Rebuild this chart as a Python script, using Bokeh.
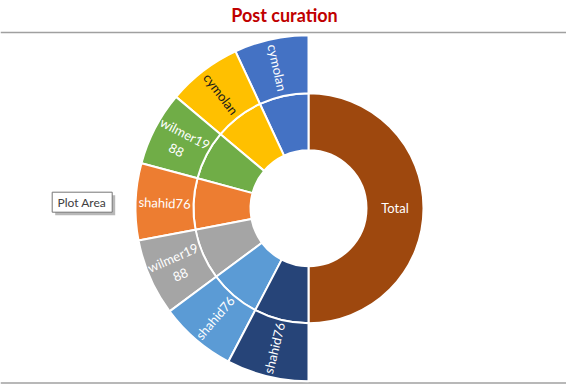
import math
from bokeh.plotting import figure
from bokeh.models import Range1d, ColumnDataSource
from bokeh.core.properties import value
from bokeh.embed import file_html
from bokeh.resources import INLINE

# ---- data ----
title = "Post curation"
outer_names = ["cymolan", "cymolan", "wilmer1988", "shahid76", "wilmer1988", "shahid76", "shahid76"]
outer_display = ["cymolan", "cymolan", "wilmer19\n88", "shahid76", "wilmer19\n88", "shahid76", "shahid76"]
segment_values = [29, 29, 29, 30, 30, 30, 32]
segment_colors = ["#4472C4", "#FFC000", "#70AD47", "#ED7D31", "#A5A5A5", "#5B9BD5", "#264478"]
label_colors = ["white", "#1a1a1a", "white", "white", "white", "white", "white"]
total_name = "Total"
total_value = 209
total_color = "#9E480E"

# ---- geometry ----
W, H = 566, 385
cx, cy = 308, -207.7
r_hole, r_mid, r_out = 58, 115, 173

p = figure(width=W, height=H, x_range=Range1d(0, W), y_range=Range1d(-H, 0),
           output_backend="svg", toolbar_location=None, min_border=0,
           x_axis_location=None, y_axis_location=None)
p.grid.visible = False
p.outline_line_color = None
p.background_fill_color = "white"

# frame lines
p.segment(x0=[0, 0], y0=[-32, -382.5], x1=[W, W], y1=[-32, -382.5],
          line_color="#a0a0a0", line_width=1.5)

# total (right half) -- equals the sum of the rest
left_sum = sum(segment_values)
total_span = 2 * math.pi * total_value / (total_value + left_sum)
p.annular_wedge(x=cx, y=cy, inner_radius=r_hole, outer_radius=r_mid,
                start_angle=math.pi / 2 - total_span, end_angle=math.pi / 2,
                fill_color=total_color, line_color="white", line_width=2)
mid_total = math.pi / 2 - total_span / 2
p.text(x=[cx + (r_hole + r_mid) / 2 * math.cos(mid_total)],
       y=[cy + (r_hole + r_mid) / 2 * math.sin(mid_total)],
       text=[total_name], text_color="white", text_font=value("Lato"),
       text_font_size="13px", text_align="center", text_baseline="middle")

# left segments
left_span = 2 * math.pi - total_span
starts, ends, lx, ly, angs = [], [], [], [], []
cum = 0
for v in segment_values:
    s = math.pi / 2 + cum / left_sum * left_span
    cum += v
    e = math.pi / 2 + cum / left_sum * left_span
    m = (s + e) / 2
    starts.append(s); ends.append(e)
    rr = (r_mid + r_out) / 2
    lx.append(cx + rr * math.cos(m)); ly.append(cy + rr * math.sin(m))
    a = m + math.pi
    while a > math.pi / 2:
        a -= math.pi
    while a <= -math.pi / 2:
        a += math.pi
    angs.append(a)

src = ColumnDataSource(dict(start=starts, end=ends, color=segment_colors,
                            x=lx, y=ly, text=outer_display, angle=angs, tcolor=label_colors))
p.annular_wedge(x=cx, y=cy, inner_radius=r_hole, outer_radius=r_mid,
                start_angle="start", end_angle="end", fill_color="color",
                line_color="white", line_width=2, source=src)
p.annular_wedge(x=cx, y=cy, inner_radius=r_mid, outer_radius=r_out,
                start_angle="start", end_angle="end", fill_color="color",
                line_color="white", line_width=2, source=src)
p.text(x="x", y="y", text="text", angle="angle", text_color="tcolor",
       text_font=value("Lato"), text_font_size="13px", text_align="center",
       text_baseline="middle", text_line_height=1.15, source=src)

# title
p.text(x=[284], y=[-14], text=[title], text_color="#C00000", text_font=value("Lato"),
       text_font_style="bold", text_font_size="18px", text_align="center", text_baseline="middle")

# "Plot Area" hover tag
p.quad(left=[54.7], right=[114.7], top=[-194.7], bottom=[-214.7],
       fill_color="#a6a6a6", fill_alpha=0.8, line_color=None)
p.quad(left=[51.7], right=[111.7], top=[-191.7], bottom=[-211.7],
       fill_color="white", line_color="#767676", line_width=1)
p.text(x=[57], y=[-201.7], text=["Plot Area"], text_color="#404040",
       text_font=value("Lato"), text_font_size="12px", text_align="left", text_baseline="middle")

open("out.html", "w").write(file_html(p, INLINE))
